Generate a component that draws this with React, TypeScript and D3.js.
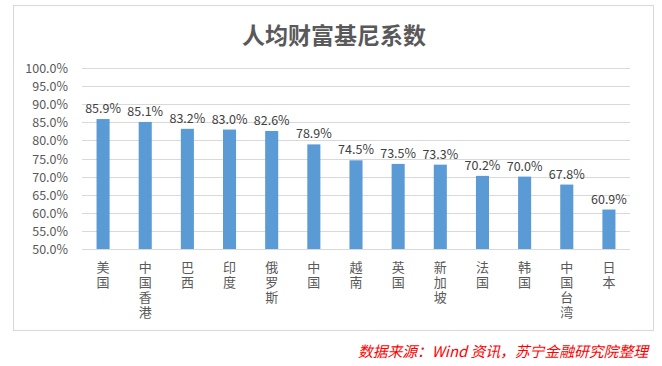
import { useEffect, useRef } from "react";
import * as d3 from "d3";

const W = 662;
const H = 366;

const countries = ["美国", "中国香港", "巴西", "印度", "俄罗斯", "中国", "越南", "英国", "新加坡", "法国", "韩国", "中国台湾", "日本"];
const gini = [85.9, 85.1, 83.2, 83.0, 82.6, 78.9, 74.5, 73.5, 73.3, 70.2, 70.0, 67.8, 60.9];
const yTicks = [50, 55, 60, 65, 70, 75, 80, 85, 90, 95, 100];

const PLOT = { left: 82, right: 630, top: 68, bottom: 249 };
const TEXT = "#595959";
const FONT = "'Microsoft YaHei', 'Noto Sans CJK SC', 'Noto Sans', sans-serif";

export default function App() {
  const svgRef = useRef<SVGSVGElement | null>(null);

  useEffect(() => {
    const svg = d3.select(svgRef.current);
    svg.selectAll("*").remove();

    // chart frame
    svg
      .append("rect")
      .attr("x", 13.5)
      .attr("y", 5.5)
      .attr("width", 640)
      .attr("height", 325)
      .attr("fill", "#fff")
      .attr("stroke", "#d9d9d9");

    svg
      .append("text")
      .attr("x", 334)
      .attr("y", 44)
      .attr("text-anchor", "middle")
      .attr("fill", TEXT)
      .attr("font-family", FONT)
      .attr("font-size", 23)
      .attr("font-weight", "bold")
      .text("人均财富基尼系数");

    const x = d3
      .scaleBand<string>()
      .domain(countries)
      .range([PLOT.left, PLOT.right])
      .paddingInner(0.69)
      .paddingOuter(0.345);
    const y = d3.scaleLinear().domain([50, 100]).range([PLOT.bottom, PLOT.top]);

    // gridlines + y labels
    yTicks.forEach((t) => {
      const yy = Math.round(y(t)) + 0.5;
      svg
        .append("line")
        .attr("x1", PLOT.left)
        .attr("x2", PLOT.right)
        .attr("y1", yy)
        .attr("y2", yy)
        .attr("stroke", "#d9d9d9");
      svg
        .append("text")
        .attr("x", 68)
        .attr("y", yy + 4.5)
        .attr("text-anchor", "end")
        .attr("fill", TEXT)
        .attr("font-family", FONT)
        .attr("font-size", 12.5)
        .text(t.toFixed(1) + "%");
    });

    const bars = svg.append("g");
    countries.forEach((c, i) => {
      const bx = x(c) ?? 0;
      const v = gini[i];
      bars
        .append("rect")
        .attr("x", bx)
        .attr("y", y(v))
        .attr("width", x.bandwidth())
        .attr("height", y(50) - y(v))
        .attr("fill", "#5b9bd5");
      bars
        .append("text")
        .attr("x", bx + x.bandwidth() / 2)
        .attr("y", y(v) - 6)
        .attr("text-anchor", "middle")
        .attr("fill", "#404040")
        .attr("font-family", FONT)
        .attr("font-size", 12.5)
        .text(v.toFixed(1) + "%");

      // vertical category label
      svg
        .append("text")
        .attr("x", bx + x.bandwidth() / 2)
        .attr("y", 261)
        .attr("fill", TEXT)
        .attr("font-family", FONT)
        .attr("font-size", 13)
        .style("writing-mode", "vertical-rl")
        .style("letter-spacing", "2px")
        .text(c);
    });

    svg
      .append("text")
      .attr("x", 648)
      .attr("y", 357)
      .attr("text-anchor", "end")
      .attr("fill", "#ff0000")
      .attr("font-family", FONT)
      .attr("font-size", 14.8)
      .attr("font-style", "italic")
      .text("数据来源：Wind 资讯，苏宁金融研究院整理");
  }, []);

  return (
    <svg
      ref={svgRef}
      width={W}
      height={H}
      viewBox={`0 0 ${W} ${H}`}
      style={{ position: "absolute", left: 0, top: 0, background: "#fff" }}
    />
  );
}
